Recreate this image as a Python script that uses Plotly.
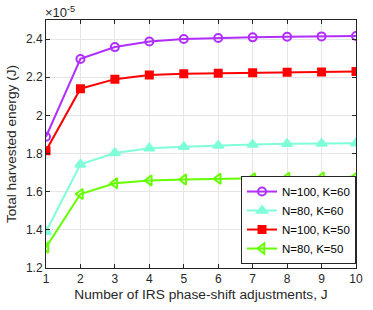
import plotly.graph_objects as go

J = [1, 2, 3, 4, 5, 6, 7, 8, 9, 10]
n100_k60 = [1.888, 2.296, 2.358, 2.387, 2.400, 2.406, 2.409, 2.412, 2.414, 2.416]
n80_k60 = [1.390, 1.743, 1.803, 1.828, 1.835, 1.842, 1.847, 1.851, 1.852, 1.854]
n100_k50 = [1.815, 2.140, 2.190, 2.212, 2.218, 2.221, 2.223, 2.226, 2.228, 2.230]
n80_k50 = [1.308, 1.588, 1.644, 1.659, 1.664, 1.668, 1.671, 1.673, 1.675, 1.678]
names = ["N=100, K=60", "N=80, K=60", "N=100, K=50", "N=80, K=50"]
yticks = [1.2, 1.4, 1.6, 1.8, 2.0, 2.2, 2.4]
yticklabels = ["1.2", "1.4", "1.6", "1.8", "2", "2.2", "2.4"]

font = "Liberation Sans, Arial, Helvetica, sans-serif"

fig = go.Figure()
specs = [
    (n100_k60, "#B22EFF", "circle-open", 8),
    (n80_k60, "#7FFFD9", "triangle-up", 9),
    (n100_k50, "#FF0000", "square", 7),
    (n80_k50, "#66FF00", "triangle-left-open", 9),
]
for (vals, color, sym, size), name in zip(specs, names):
    fig.add_trace(go.Scatter(
        x=J, y=vals, name=name, mode="lines+markers",
        line=dict(color=color, width=2),
        marker=dict(symbol=sym, size=size, color=color,
                    line=dict(color=color, width=2)),
    ))

axis_common = dict(
    showline=True, linecolor="#262626", linewidth=1, mirror="ticks",
    ticks="inside", ticklen=4, tickcolor="#262626",
    showgrid=True, gridcolor="#E6E6E6", gridwidth=1, zeroline=False,
    tickfont=dict(family=font, size=12, color="#262626"),
    ticklabeloverflow="allow",
)
fig.update_xaxes(range=[1, 10], tickvals=J,
                 title=dict(text="Number of IRS phase-shift adjustments, J",
                            font=dict(family=font, size=13.7, color="#262626"),
                            standoff=4),
                 **axis_common)
fig.update_yaxes(range=[1.2, 2.5], tickvals=yticks, ticktext=yticklabels,
                 title=dict(text="Total harvested energy (J)",
                            font=dict(family=font, size=13.7, color="#262626"),
                            standoff=6),
                 **axis_common)

fig.add_annotation(x=0, y=1, xref="paper", yref="paper", xanchor="left",
                   yanchor="bottom", showarrow=False, yshift=-2, xshift=-3,
                   text="×10<sup>-5</sup>",
                   font=dict(family=font, size=13, color="#262626"))

fig.update_layout(
    width=373, height=310,
    margin=dict(l=43, r=10, t=20, b=40),
    plot_bgcolor="white", paper_bgcolor="white",
    showlegend=True,
    legend=dict(x=1, y=0.016, xanchor="right", yanchor="bottom",
                bgcolor="white", bordercolor="#262626", borderwidth=1,
                font=dict(family=font, size=11.5, color="black"),
                tracegroupgap=0, itemwidth=30),
)

fig.write_html("out.html",
               config={"displayModeBar": False},
               post_script="document.body.style.margin='0';document.body.style.overflow='hidden';")
